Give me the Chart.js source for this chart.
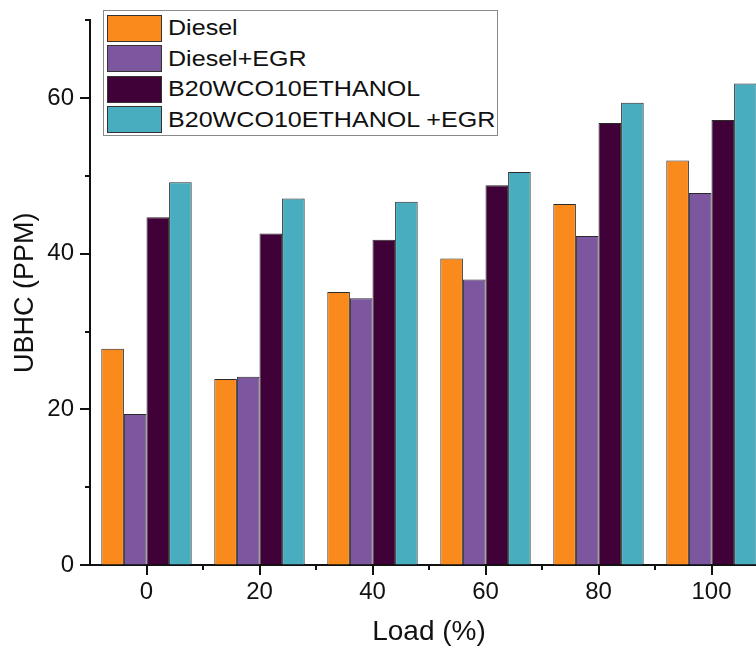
<!DOCTYPE html>
<html>
<head>
<meta charset="utf-8">
<script src="https://cdn.jsdelivr.net/npm/chart.js@4"></script>
<style>
    html, body { margin: 0; padding: 0; background: #fff; overflow: hidden; }
    #wrap { position: relative; width: 756px; height: 651px; overflow: hidden; }
    #chart { position: absolute; left: 0; top: 0; }
    #legend {
        position: absolute; left: 103px; top: 10px; width: 395px; height: 126px;
        border: 1px solid #8a8a8a; background: #fff; box-sizing: border-box;
        padding: 2px 0 0 3px; font-family: "Liberation Sans", Arial, sans-serif;
    }
    .row { display: flex; align-items: center; height: 30.5px; }
    .sw { width: 55px; height: 27px; border: 1px solid #333; box-sizing: border-box; margin-right: 6px; }
    .lbl { font-size: 22px; color: #111; white-space: nowrap; transform: scaleX(1.14); transform-origin: left center; }
</style>
</head>
<body>
<div id="wrap">
    <canvas id="chart" width="768" height="651"></canvas>
    <div id="legend"></div>
</div>
<script>
// UBHC emissions vs engine load
const loads = ['0', '20', '40', '60', '80', '100'];
const seriesNames = ['Diesel', 'Diesel+EGR', 'B20WCO10ETHANOL', 'B20WCO10ETHANOL +EGR'];
const diesel = [27.8, 23.9, 35.1, 39.4, 46.4, 52.0];
const dieselEgr = [19.4, 24.2, 34.3, 36.7, 42.3, 47.8];
const blend = [44.7, 42.6, 41.8, 48.8, 56.8, 57.2];
const blendEgr = [49.2, 47.1, 46.7, 50.5, 59.4, 61.9];
const colors = ['#fb8a1c', '#7c569f', '#400038', '#47adbf'];

const font = { family: '"Liberation Sans", Arial, sans-serif' };

// major ticks long, minor ticks short, both pointing outward
const tickPlugin = {
    id: 'axisTicks',
    afterDraw(chart) {
        const { ctx, scales: { x, y }, chartArea } = chart;
        ctx.save();
        ctx.strokeStyle = '#111';
        ctx.lineWidth = 2;
        ctx.beginPath();
        for (let v = 0; v <= 70; v += 10) {
            const py = Math.round(y.getPixelForValue(v));
            const len = v % 20 === 0 ? 10 : 5;
            ctx.moveTo(chartArea.left - len, py);
            ctx.lineTo(chartArea.left, py);
        }
        loads.forEach((_, i) => {
            const px = Math.round(x.getPixelForValue(i));
            ctx.moveTo(px, chartArea.bottom);
            ctx.lineTo(px, chartArea.bottom + 10);
            if (i > 0) {
                const mx = Math.round((px + x.getPixelForValue(i - 1)) / 2);
                ctx.moveTo(mx, chartArea.bottom);
                ctx.lineTo(mx, chartArea.bottom + 5);
            }
        });
        ctx.stroke();
        ctx.restore();
    }
};

new Chart(document.getElementById('chart'), {
    type: 'bar',
    data: {
        labels: loads,
        datasets: [diesel, dieselEgr, blend, blendEgr].map((d, i) => ({
            label: seriesNames[i],
            data: d,
            backgroundColor: colors[i],
            borderColor: '#2a2a2a',
            borderWidth: 1,
            categoryPercentage: 0.8,
            barPercentage: 1.0
        }))
    },
    options: {
        responsive: false,
        animation: false,
        layout: { padding: { top: 20, right: 0, left: 0, bottom: 0 } },
        plugins: { legend: { display: false }, tooltip: { enabled: false } },
        scales: {
            x: {
                afterFit: (s) => { s.height = 86; },
                grid: { display: true, drawOnChartArea: false, offset: false, tickLength: 10, tickColor: 'transparent' },
                border: { color: '#111', width: 2 },
                ticks: { color: '#111', padding: 3, font: { ...font, size: 24 } },
                title: { display: true, text: 'Load (%)', color: '#111', font: { ...font, size: 28 }, padding: { top: 0, bottom: 2 } }
            },
            y: {
                min: 0,
                max: 70,
                afterFit: (s) => { s.width = 90; },
                grid: { display: true, drawOnChartArea: false, tickLength: 10, tickColor: 'transparent' },
                border: { color: '#111', width: 2 },
                ticks: {
                    stepSize: 10,
                    color: '#111',
                    padding: 6,
                    font: { ...font, size: 24 },
                    callback: (v) => (v % 20 === 0 ? v : '')
                },
                title: { display: true, text: 'UBHC (PPM)', color: '#111', font: { ...font, size: 27 }, padding: { top: 9, bottom: 0 } }
            }
        }
    },
    plugins: [tickPlugin]
});

document.getElementById('legend').innerHTML = seriesNames.map((name, i) =>
    `<div class="row"><div class="sw" style="background:${colors[i]}"></div><span class="lbl">${name}</span></div>`
).join('');
</script>
</body>
</html>
